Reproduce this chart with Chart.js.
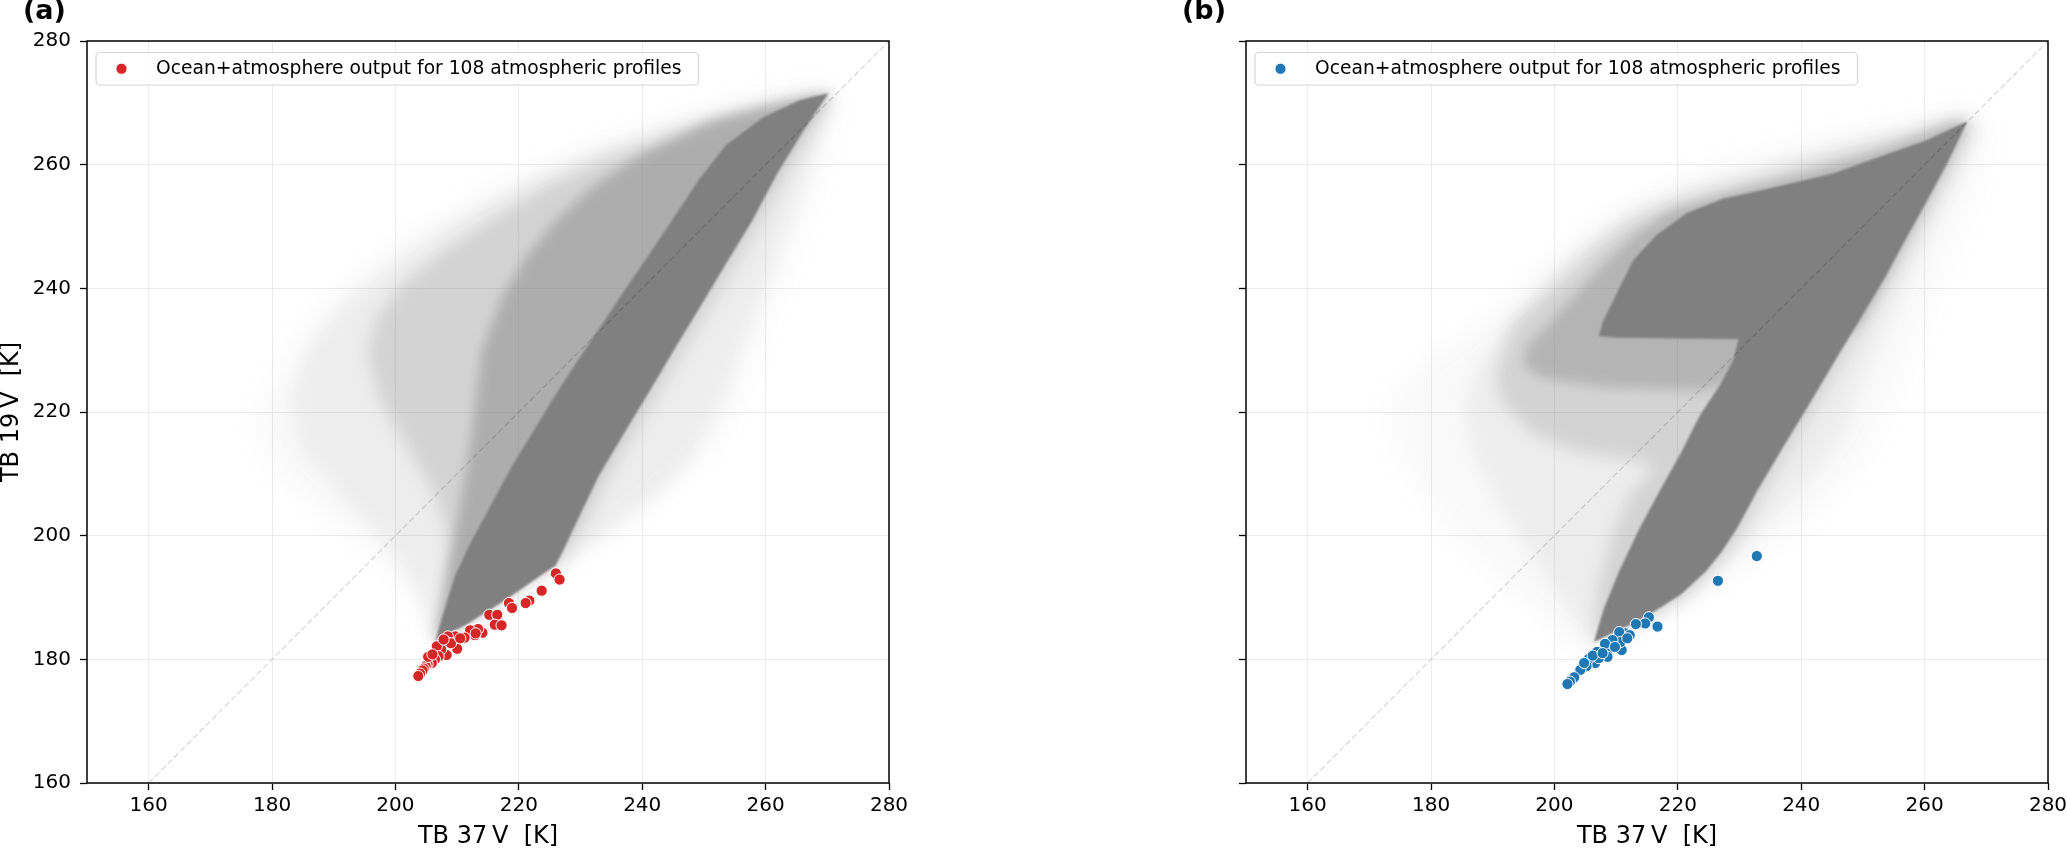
<!DOCTYPE html>
<html>
<head>
<meta charset="utf-8">
<script src="https://cdn.jsdelivr.net/npm/chart.js@4.4.1/dist/chart.umd.min.js"></script>
<style>
html, body { margin: 0; padding: 0; background: #fff; }
#wrap { position: relative; width: 2067px; height: 850px; overflow: hidden; }
#boxA { position: absolute; left: 0; top: 0; }
#boxB { position: absolute; left: 1160px; top: 0; }
</style>
</head>
<body>
<div id="wrap">
  <div id="boxA"><canvas id="chartA" width="1000" height="850"></canvas></div>
  <div id="boxB"><canvas id="chartB" width="907" height="850"></canvas></div>
</div>
<script>
/* ---------------- data ---------------- */

const xTicks = [160, 180, 200, 220, 240, 260, 280];
const yTicks = [160, 180, 200, 220, 240, 260, 280];
const diagonal = [[160, 160], [280, 280]];

/* panel (a) : 108 profiles, TB37V / TB19V */
const redTb37 = [226.0, 226.6, 223.7, 221.7, 221.1, 218.4, 218.9, 215.2, 216.5, 216.1, 217.2, 214.1, 213.4, 212.9, 212.1, 211.2,
  209.7, 208.5, 208.2, 210.0, 208.3, 207.4, 206.7, 209.0, 207.0, 206.4, 205.6, 205.9, 205.2, 204.9, 204.6, 204.4, 204.0, 203.7,
  205.3, 206.0, 210.5, 213.0, 207.8];
const redTb19 = [193.9, 192.9, 191.1, 189.5, 189.1, 189.1, 188.3, 187.2, 187.2, 185.6, 185.5, 184.3, 184.9, 183.9, 184.7, 183.5,
  183.7, 183.7, 182.8, 181.7, 180.7, 181.6, 182.1, 182.6, 180.5, 180.0, 179.9, 179.4, 179.2, 178.9, 178.5, 178.2, 177.7, 177.3,
  180.4, 180.8, 183.4, 184.2, 183.2];

/* panel (b) */
const blueTb37 = [232.8, 226.5, 216.7, 215.3, 214.7, 213.2, 211.5, 210.5, 212.2, 210.9, 210.7, 209.4, 208.7, 208.2, 208.6, 206.9,
  206.6, 205.6, 205.2, 204.2, 203.2, 202.5, 202.1, 207.2, 206.2, 209.8, 211.8, 204.8, 207.8];
const blueTb19 = [196.7, 192.7, 185.3, 186.8, 185.8, 185.7, 184.2, 184.4, 183.9, 181.5, 182.8, 183.1, 181.6, 182.5, 180.4, 181.2,
  179.4, 180.1, 178.9, 178.3, 177.1, 176.4, 176.0, 180.2, 180.6, 182.0, 183.4, 179.4, 181.0];

/* outlines of the grey point cloud, by density (outer halo -> dense core) */
const haloOuterA = [[269.4, 272.7], [261.9, 271.6], [249.5, 268.5], [237, 264.7], [224.6, 260.1], [212.2, 254], [201.4, 247.9],
  [193.1, 241.7], [184.8, 232.6], [179, 222.6], [177.4, 217.3], [179.8, 211.1], [187.3, 204.3], [196.4, 197.4], [203, 189.7],
  [206.4, 182.8], [215, 187.5], [223, 193.6], [228.8, 196.6], [235.4, 201.2], [243.7, 207.3], [252, 215], [256.1, 223.4],
  [260.3, 235.6], [265.2, 247.9], [269.4, 260.1], [271, 270]];
const haloA = [[269.4, 272], [257.8, 270.1], [245.3, 266.6], [232.9, 262.4], [220.5, 257], [209.7, 250.9], [199.7, 244],
  [191.5, 237.2], [185.6, 229.5], [183.2, 221.9], [184.8, 214.2], [191.5, 206.6], [198.1, 199.7], [203.9, 191.3], [206.4, 182.8],
  [224.6, 194.3], [231.2, 198.1], [239.5, 204.3], [247, 211.1], [252, 220.3], [256.1, 231], [260.3, 241.7], [265.2, 254.8],
  [269.4, 266.2], [270.6, 270.8]];
const mediumA = [[270.2, 271.4], [257.8, 268.5], [245.3, 265.1], [232.9, 260.5], [224.6, 256.7], [216.3, 251.7], [208, 246.3],
  [201.4, 241], [197, 235.6], [195.5, 229.5], [197.5, 221.9], [202, 214.2], [206.4, 206.6], [208.9, 198.9], [208, 189.7],
  [206.4, 182.8], [227.1, 195.9], [230.8, 202], [234.6, 209.6], [238.7, 216.5], [242.8, 223.4], [247, 230.3], [251.1, 237.2],
  [255.3, 244], [259.4, 250.9], [263.6, 258.6], [267.7, 265.5], [271, 270.8]];
const denseA = [[270.2, 271.6], [262, 270], [251, 267.2], [240.2, 261.9], [232, 256.5], [226, 251], [221, 245], [217, 238],
  [214, 230], [213, 222], [212, 214], [210.5, 205], [208.5, 195], [206.4, 182.8], [224.6, 195.9], [249.5, 241.7], [267.7, 268.5]];
const coreA = [[270.2, 271.6], [266.1, 265.5], [261.9, 258.6], [257.8, 250.9], [253.6, 244.0], [249.5, 237.2], [245.3, 230.3],
  [241.2, 223.4], [237.0, 216.5], [232.9, 209.6], [229.6, 202.7], [227.1, 197.4], [225.9, 195.1], [224.6, 194.3], [218, 189.7],
  [211.3, 185.5], [207.2, 183.6], [206.4, 182.8], [208, 188.2], [209.7, 193.6], [212.2, 198.9], [215.5, 205.0], [218.8, 211.1],
  [222.1, 216.5], [225.4, 221.9], [228.8, 227.2], [232.9, 233.3], [237, 239.5], [241.2, 245.6], [245.3, 251.7], [249.2, 257.6],
  [253.6, 263.2], [259.5, 267.6], [265.5, 270.4]];

const haloOuterB = [[267.7, 269.3], [257.8, 267], [245.3, 264.7], [232.9, 261.6], [220.5, 257.8], [209.7, 252.5], [199.7, 244.8],
  [189.8, 235.6], [179, 228], [173.2, 221.9], [174.9, 212.7], [181.5, 203.5], [189.8, 194.3], [198.1, 186.7], [204.7, 181.3],
  [208, 182.1], [220.5, 188.2], [228.8, 193.6], [237, 199.7], [245.3, 206.6], [251.1, 214.2], [255.3, 223.4], [259.4, 234.1],
  [264.4, 246.3], [268.5, 257], [270.2, 266.2]];
const haloB = [[265.2, 268.1], [257.8, 265.8], [245.3, 262.8], [232.9, 259.3], [223, 256.3], [213, 252.5], [204.7, 247.1],
  [198.1, 240.2], [191.5, 232.6], [187.3, 226.4], [185.6, 220.3], [187.3, 212.7], [191.5, 205], [196.4, 197.4], [201.4, 189.7],
  [205.5, 183.6], [208, 183.2], [220.5, 189.7], [226.3, 195.1], [231.2, 198.9], [237, 205], [242.8, 211.1], [247, 217.3],
  [249.5, 224.9], [253.6, 234.1], [257.8, 243.3], [262.7, 253.2], [266.9, 261.6], [268.5, 267]];
const mediumB = [[206.4, 182.8], [207.2, 192], [209.3, 199.7], [212.2, 206.6], [216.3, 211.1], [213, 212.2], [203.9, 213.5],
  [196.4, 216.5], [191.5, 221.5], [190.5, 226.4], [193.1, 234.1], [199.7, 240.2], [206.4, 246.3], [212.2, 250.9], [220.5, 254.4],
  [232.9, 257.8], [241.2, 260.3], [249.5, 262.6], [257.8, 264.9], [266.1, 267.6], [267.7, 265.5], [264.8, 260.1], [261.5, 254],
  [258.2, 247.9], [254.9, 241.8], [250.7, 234.9], [246.6, 228], [242.4, 221.1], [238.3, 214.2], [234.1, 207.3], [230.8, 201.2],
  [228.3, 197.4], [225.4, 193.9], [221.3, 190.1], [216.3, 187.3], [209.7, 183.8]];
const denseB = [[195.5, 230.5], [199.7, 234.9], [203.9, 239.5], [208, 244], [213, 248.6], [218.8, 252.5], [228.8, 255.5],
  [241.2, 258.6], [253.6, 262.4], [264.4, 266.6], [266.9, 267.0], [249.5, 234.1], [229.5, 225.5], [224.6, 223.5], [208, 224],
  [198, 225.5], [195, 227.5]];
const coreB = [[266.9, 267.0], [263.6, 260.1], [260.3, 254.0], [256.9, 247.9], [253.6, 241.8], [249.5, 234.9], [245.3, 228.0],
  [241.2, 221.1], [237, 214.2], [232.9, 207.3], [229.6, 201.2], [227.1, 197.4], [224.6, 194.3], [220.5, 190.5], [216.3, 187.8],
  [213, 185.9], [209.7, 184.4], [206.4, 182.8], [208, 188.2], [210.5, 194.3], [213.8, 201.2], [217.1, 207.3], [220.5, 213.4],
  [223.6, 219.5], [226.9, 224.5], [229, 228.4], [229.8, 231.8], [220.5, 231.9], [210, 232.0], [207.2, 232.3], [207.8, 234.5],
  [210.1, 239.2], [212.8, 244.6], [216.5, 248.6], [221.5, 252.2], [227.3, 254.5], [235, 256.2], [245.3, 258.6], [253.6, 261.6],
  [260.3, 263.9], [265.2, 266.2]];

const legendText = "Ocean+atmosphere output for 108 atmospheric profiles";

/* ---------------- helpers ---------------- */

function toXY(pairs) {
  return pairs.map(p => ({ x: p[0], y: p[1] }));
}
function zip(xs, ys) {
  return xs.map((v, i) => ({ x: v, y: ys[i] }));
}

function cloudLayer(pairs, color, order, blur) {
  return {
    type: "line",
    data: toXY(pairs),
    fill: "shape",
    backgroundColor: color,
    borderWidth: 0,
    pointRadius: 0,
    pointHoverRadius: 0,
    tension: 0,
    order: order,
    blur: blur,
    noLegend: true
  };
}

/* blur the cloud layers a bit so the edges look like a scatter of points */
const softEdges = {
  id: "softEdges",
  beforeDatasetsDraw(chart) {
    const metas = chart.getSortedVisibleDatasetMetas();
    const first = metas[metas.length - 1];
    const b = first ? chart.data.datasets[first.index].blur : 0;
    chart.ctx.filter = b ? "blur(" + b + "px)" : "none";
  },
  afterDatasetDraw(chart, args) {
    const metas = chart.getSortedVisibleDatasetMetas();
    const pos = metas.indexOf(args.meta);
    const next = metas[pos - 1];
    const b = next ? chart.data.datasets[next.index].blur : 0;
    chart.ctx.filter = b ? "blur(" + b + "px)" : "none";
  },
  afterDatasetsDraw(chart) {
    chart.ctx.filter = "none";
  }
};

/* frame, legend box and panel letter */
const decorations = {
  id: "decorations",
  afterDraw(chart, args, opts) {
    const ctx = chart.ctx;
    const a = chart.chartArea;
    ctx.save();
    // frame
    ctx.strokeStyle = "#000";
    ctx.lineWidth = 1.5;
    ctx.strokeRect(a.left, a.top, a.right - a.left, a.bottom - a.top);

    // legend
    const ds = chart.data.datasets.find(d => !d.noLegend);
    ctx.font = "18.7px 'DejaVu Sans'";
    const tw = ctx.measureText(ds.label).width;
    const bx = a.left + 9, by = a.top + 11.5, bh = 32.5;
    const bw = 69 + tw + 8;
    ctx.beginPath();
    ctx.roundRect(bx, by, bw, bh, 4);
    ctx.fillStyle = "rgba(255,255,255,0.85)";
    ctx.fill();
    ctx.strokeStyle = "#d6d6d6";
    ctx.lineWidth = 1.2;
    ctx.stroke();
    ctx.beginPath();
    ctx.arc(bx + 25.5, by + bh / 2, 5.5, 0, Math.PI * 2);
    ctx.fillStyle = ds.backgroundColor;
    ctx.fill();
    ctx.strokeStyle = "#fff";
    ctx.lineWidth = 0.8;
    ctx.stroke();
    ctx.fillStyle = "#000";
    ctx.textBaseline = "middle";
    ctx.textAlign = "left";
    ctx.fillText(ds.label, bx + 60, by + bh / 2 + 0.5);

    // panel letter
    ctx.font = "bold 27px 'DejaVu Sans'";
    ctx.textBaseline = "alphabetic";
    ctx.fillText(opts.tag, opts.tagX, 19);
    ctx.restore();
  }
};

function makeChart(canvasId, cfg) {
  const datasets = [
    {
      label: legendText,
      data: zip(cfg.px, cfg.py),
      backgroundColor: cfg.color,
      borderColor: "#ffffff",
      borderWidth: 1,
      pointRadius: 5.6,
      pointHoverRadius: 5.6,
      order: 0
    },
    {
      type: "line",
      data: toXY(diagonal),
      borderColor: "rgba(0,0,0,0.16)",
      borderWidth: 1.2,
      borderDash: [6, 3],
      pointRadius: 0,
      fill: false,
      order: 1,
      noLegend: true
    },
    cloudLayer(cfg.core, "#808080", 2, 1.2),
    cloudLayer(cfg.dense, "rgba(128,128,128," + cfg.denseAlpha + ")", 3, 6),
    cloudLayer(cfg.medium, "rgba(128,128,128,0.24)", 4, 8),
    cloudLayer(cfg.halo, "rgba(128,128,128,0.10)", 5, 9),
    cloudLayer(cfg.outer, "rgba(128,128,128,0.05)", 6, 12)
  ];

  return new Chart(document.getElementById(canvasId), {
    type: "scatter",
    data: { datasets: datasets },
    options: {
      responsive: false,
      animation: false,
      devicePixelRatio: 1,
      layout: { padding: { left: 0, top: 41, right: cfg.padRight, bottom: 0 } },
      plugins: {
        legend: { display: false },
        tooltip: { enabled: false },
        decorations: { tag: cfg.tag, tagX: cfg.tagX }
      },
      scales: {
        x: {
          type: "linear",
          min: 150,
          max: 280,
          afterBuildTicks: s => { s.ticks = xTicks.map(v => ({ value: v })); },
          afterFit: s => { s.height = 67; s.paddingLeft = 0; s.paddingRight = 0; },
          grid: { color: "#ebebeb", lineWidth: 1, tickColor: "#000", tickLength: 7, tickWidth: 1.3 },
          border: { display: false },
          ticks: { color: "#000", font: { family: "DejaVu Sans", size: 20 }, padding: 4, maxRotation: 0 },
          title: {
            display: true, text: "TB 37\u2009V  [K]", color: "#000",
            font: { family: "DejaVu Sans", size: 24, lineHeight: 1 }, padding: { top: 0, bottom: 1 }
          }
        },
        y: {
          type: "linear",
          min: 160,
          max: 280,
          afterBuildTicks: s => { s.ticks = yTicks.map(v => ({ value: v })); },
          afterFit: s => { s.width = cfg.yWidth; s.paddingTop = 0; s.paddingBottom = 0; },
          grid: { color: "#ebebeb", lineWidth: 1, tickColor: "#000", tickLength: 7, tickWidth: 1.3 },
          border: { display: false },
          ticks: { display: cfg.yLabels, color: "#000", font: { family: "DejaVu Sans", size: 20 }, padding: 9 },
          title: {
            display: cfg.yLabels, text: "TB 19\u2009V  [K]", color: "#000",
            font: { family: "DejaVu Sans", size: 24, lineHeight: 1 }, padding: 0
          }
        }
      }
    },
    plugins: [softEdges, decorations]
  });
}

makeChart("chartA", {
  px: redTb37, py: redTb19, color: "#d62728",
  core: coreA, dense: denseA, medium: mediumA, halo: haloA, outer: haloOuterA, denseAlpha: 0.45,
  padRight: 111, yWidth: 87, yLabels: true, tag: "(a)", tagX: 23
});

makeChart("chartB", {
  px: blueTb37, py: blueTb19, color: "#1f77b4",
  core: coreB, dense: denseB, medium: mediumB, halo: haloB, outer: haloOuterB, denseAlpha: 0.36,
  padRight: 19, yWidth: 86, yLabels: false, tag: "(b)", tagX: 22
});
</script>
</body>
</html>
